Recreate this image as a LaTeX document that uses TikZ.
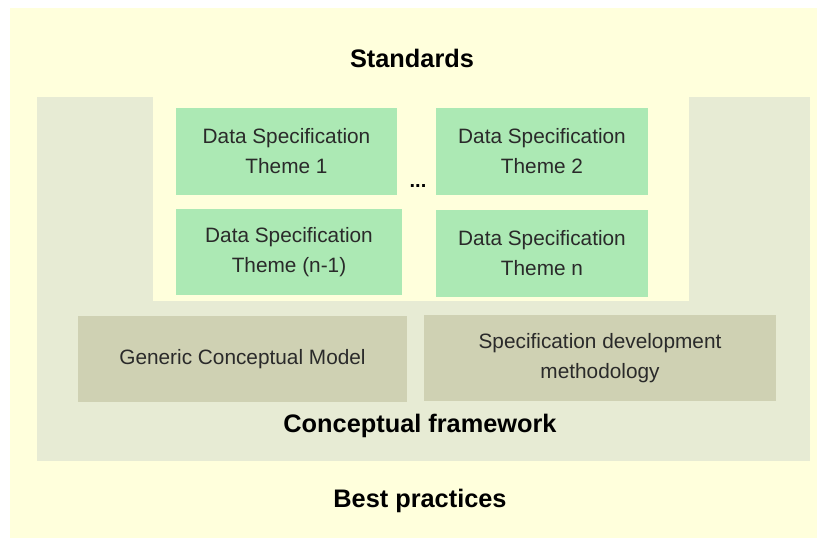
\documentclass[tikz,border=0pt]{standalone}
\usepackage{fontspec}
\setmainfont{Liberation Sans}
\definecolor{paleyellow}{HTML}{FFFFDC}
\definecolor{pillargrey}{HTML}{E7EBD4}
\definecolor{themegreen}{HTML}{ACE9B4}
\definecolor{baseolive}{HTML}{CDCFB0}
\definecolor{textgrey}{HTML}{2A2A2A}
\usetikzlibrary{positioning}

\tikzset{
  themebox/.style = {rectangle, fill = themegreen, inner sep = 0pt, align = center, text = textgrey,
    font = \fontsize{15.6}{22.5}\selectfont, minimum height = 65pt},
  basebox/.style = {rectangle, fill = baseolive, fill opacity = 0.9, text opacity = 1, inner sep = 0pt, align = center,
    text = textgrey, font = \fontsize{15.6}{22.5}\selectfont, minimum height = 64.5pt},
  layertitle/.style = {font = \fontsize{19}{22}\selectfont\bfseries, text = black}
}

\begin{document}
\begin{tikzpicture}[x = 0.75pt, y = -0.75pt]
\useasboundingbox (0,0) rectangle (817,538);
% layers
\fill[paleyellow] (10,8) rectangle (817,538);
\fill[pillargrey] (37,97) rectangle (153,461);
\fill[pillargrey] (689,97) rectangle (810,461);
\fill[pillargrey] (150,301) rectangle (690,461);
\node[layertitle] (std) at (412,58) {Standards};
\node[layertitle] (cf) at (420,426) {Conceptual framework};
\node[layertitle] (bp) at (420,501) {Best practices};
% themes
\node[themebox, minimum width = 165.75pt] (th1) at (286.5,151.5) {Data Specification\\Theme 1};
\node[themebox, minimum width = 159pt] (th2) at (542,151.5) {Data Specification\\Theme 2};
\node[themebox, minimum width = 169.5pt, minimum height = 64.5pt] (thn1) at (289,252) {Data Specification\\Theme (n-1)};
\node[themebox, minimum width = 159pt] (thn) at (542,253.5) {Data Specification\\Theme n};
\node[font = \fontsize{15}{18}\selectfont\bfseries, inner sep = 0pt] (dots) at (418,186) {...};
% framework
\node[basebox, minimum width = 246.75pt] (gcm) at (242.5,359) {Generic Conceptual Model};
\node[basebox, minimum width = 264pt] (sdm) at (600,358) {Specification development\\methodology};
\end{tikzpicture}
\end{document}
